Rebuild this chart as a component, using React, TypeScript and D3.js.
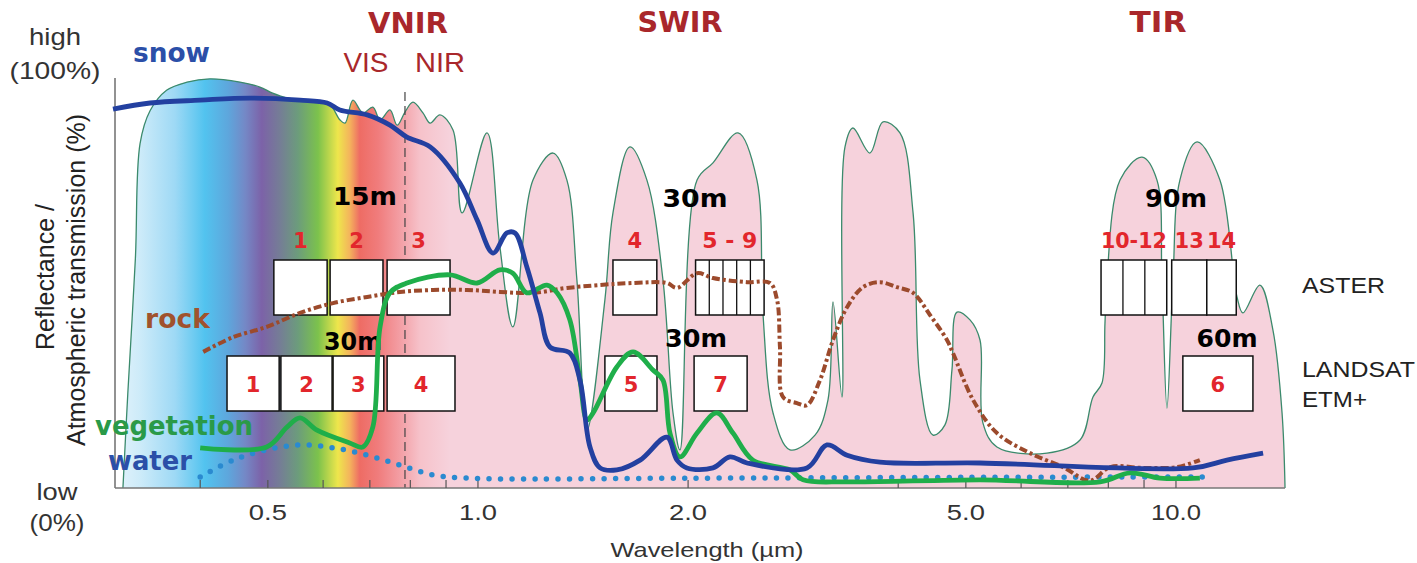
import React from 'react';
import * as d3 from 'd3';

const W = 1417;
const H = 563;

// [wavelength µm, percent]
const transmission: [number, number][] = [
  [0.310, 0], [0.315, 23], [0.323, 56], [0.328, 84], [0.339, 92], [0.358, 97], [0.383, 99],
  [0.413, 99.8], [0.456, 99], [0.487, 97.8], [0.508, 96.3], [0.533, 95.1], [0.588, 94.1],
  [0.614, 93.4], [0.634, 89.8], [0.645, 89], [0.662, 94.6], [0.684, 91.5], [0.707, 92.9],
  [0.724, 89.8], [0.748, 92.2], [0.766, 88.5], [0.786, 91.7], [0.807, 94.1], [0.834, 91.5],
  [0.854, 89], [0.882, 91], [0.921, 87.3], [0.949, 67.1], [1.030, 86.6], [1.075, 58.8],
  [1.122, 39.3], [1.199, 75.1], [1.281, 81.7], [1.341, 75.1], [1.386, 50.7], [1.433, 14.1],
  [1.520, 45.9], [1.561, 67.1], [1.651, 83.2], [1.746, 75.1], [1.841, 50.7], [1.903, 18.3],
  [1.947, 9.3], [2.060, 75.1], [2.171, 79.3], [2.358, 86.6], [2.510, 75.1], [2.560, 42.7],
  [2.647, 18.3], [2.799, 9.3], [3.040, 12.9], [3.173, 21.5], [3.226, 45.4], [3.323, 22.2],
  [3.356, 83.2], [3.445, 87.8], [3.644, 81.7], [3.804, 89.3], [4.023, 86.6], [4.201, 67.1],
  [4.298, 26.3], [4.487, 12.9], [4.667, 15.4], [4.776, 28.8], [4.856, 42.9], [5.069, 41],
  [5.239, 36.1], [5.289, 15.9], [5.540, 10], [6.535, 8.5], [7.287, 11.7], [7.605, 22.2],
  [7.834, 25.6], [7.912, 40.2], [7.963, 50.7], [8.315, 75.1], [8.941, 80.7], [9.393, 75.1],
  [9.548, 50.7], [9.707, 19.5], [9.901, 50.7], [10.13, 75.1], [10.72, 84.4], [11.56, 75.1],
  [12.23, 46.6], [12.47, 42.7], [13.19, 49.5], [13.77, 38.5], [14.19, 18.3], [14.33, 0],
];

const snow: [number, number][] = [
  [0.300, 92.4], [0.339, 93.9], [0.400, 94.6], [0.471, 95.1], [0.556, 94.6], [0.608, 93.9],
  [0.634, 92.2], [0.694, 91.0], [0.748, 88.5], [0.791, 85.6], [0.854, 83.2], [0.942, 74.4],
  [0.997, 65.4], [1.051, 57.3], [1.100, 62.2], [1.130, 62.2], [1.175, 53.9], [1.227, 42.7],
  [1.268, 34.4], [1.354, 32.9], [1.400, 26.3], [1.447, 10.0], [1.496, 4.9], [1.581, 4.4],
  [1.707, 6.8], [1.865, 12.4], [1.928, 6.8], [1.992, 4.9], [2.171, 4.9], [2.296, 7.6],
  [2.429, 6.1], [2.960, 4.9], [3.162, 10.5], [3.379, 8.0], [3.767, 6.3], [5.239, 6.1],
  [10.58, 4.9], [11.83, 6.8], [13.33, 8.5],
];

const vegetation: [number, number][] = [
  [0.400, 9.8], [0.498, 10.0], [0.533, 14.9], [0.556, 17.1], [0.588, 14.1], [0.655, 11.0],
  [0.684, 10.0], [0.707, 14.9], [0.724, 39.3], [0.748, 47.6], [0.791, 50.0], [0.912, 52.0],
  [0.997, 50.0], [1.075, 53.2], [1.122, 52.4], [1.175, 47.6], [1.255, 49.5], [1.298, 47.6],
  [1.354, 41.0], [1.400, 26.3], [1.433, 16.6], [1.462, 18.3], [1.581, 29.5], [1.668, 33.2],
  [1.781, 28.8], [1.841, 26.3], [1.884, 13.4], [1.947, 7.6], [2.060, 13.4], [2.199, 18.3],
  [2.319, 13.4], [2.477, 6.8], [2.799, 4.4], [2.922, 2.0], [3.379, 1.5], [5.239, 2.0],
  [7.784, 1.5], [8.594, 3.7], [9.488, 2.4], [10.82, 2.4],
];

const water: [number, number][] = [
  [0.400, 2.7], [0.446, 6.8], [0.498, 9.3], [0.556, 10.5], [0.620, 9.8], [0.694, 8.0],
  [0.773, 5.6], [0.862, 3.2], [0.964, 2.4], [2.0, 2.4], [5.0, 2.6], [10.93, 2.7],
];

const rock: [number, number][] = [
  [0.404, 33.2], [0.446, 36.8], [0.498, 39.3], [0.556, 42.7], [0.620, 45.1], [0.694, 46.6],
  [0.773, 47.8], [0.862, 48.3], [0.964, 48.3], [1.199, 47.6], [1.341, 48.8], [1.668, 50.0],
  [1.865, 50.0], [1.928, 48.8], [2.060, 52.4], [2.171, 51.2], [2.429, 50.2], [2.620, 50.0],
  [2.682, 45.9], [2.708, 34.4], [2.735, 22.2], [2.864, 20.7], [2.960, 20.2], [3.090, 26.3],
  [3.226, 36.1], [3.379, 44.1], [3.562, 49.0], [3.767, 50.2], [3.983, 49.0], [4.201, 47.6],
  [4.442, 42.2], [4.698, 36.1], [4.79, 33.0], [5.12, 21.5], [5.54, 13.4], [6.18, 8.5],
  [6.89, 5.1], [7.53, 1.8], [8.05, 5.1], [8.97, 4.9], [10.03, 5.1], [10.82, 6.8],
];

// sensor bands: label, from, to (µm), number of sub-cells
const asterBands = [
  { label: '1', lo: 0.510, hi: 0.608, n: 1 },
  { label: '2', lo: 0.614, hi: 0.731, n: 1 },
  { label: '3', lo: 0.741, hi: 0.912, n: 1 },
  { label: '4', lo: 1.561, hi: 1.804, n: 1 },
  { label: '5 - 9', lo: 2.05, hi: 2.57, n: 5 },
  { label: '10-12', lo: 7.81, hi: 9.70, n: 3 },
  { label: '13', lo: 9.86, hi: 11.07, n: 1 },
  { label: '14', lo: 11.07, hi: 12.2, n: 1 },
];
const landsatBands = [
  { label: '1', lo: 0.437, hi: 0.519 },
  { label: '2', lo: 0.522, hi: 0.618 },
  { label: '3', lo: 0.620, hi: 0.733 },
  { label: '4', lo: 0.741, hi: 0.927 },
  { label: '5', lo: 1.520, hi: 1.805 },
  { label: '7', lo: 2.04, hi: 2.43 },
  { label: '6', lo: 10.23, hi: 12.89 },
];

const tickValues = [0.4, 0.5, 0.6, 0.7, 0.8, 0.9, 1, 2, 4, 5, 6, 7, 8, 9, 10];
const tickLabels = [0.5, 1, 2, 5, 10];

// visible spectrum colours under the transmission curve
const spectrum: [number, string][] = [
  [0.300, '#e6f4fc'], [0.328, '#cdebf9'], [0.368, '#9ed9f5'], [0.406, '#52c3ef'],
  [0.439, '#5ea6dc'], [0.464, '#7488c6'], [0.490, '#7c62a8'], [0.520, '#757d96'],
  [0.552, '#6c9c7c'], [0.590, '#7cc24c'], [0.630, '#eee64c'], [0.655, '#f4b45c'],
  [0.677, '#ee6c64'], [0.719, '#f07c7c'], [0.773, '#f39ea4'], [0.826, '#f6c2ca'],
  [0.912, '#f6d2dc'],
];

const SANS = '"Liberation Sans", Arial, sans-serif';
const BOLD = '"DejaVu Sans", sans-serif';
const RED = '#e2262c';
const DARKRED = '#a9272b';

const Txt = ({ x, y, t, size, w, anchor = 'middle', bold = false, fill = '#222' }: any) => (
  <text x={x} y={y} fontSize={size} textAnchor={anchor} fill={fill}
        fontFamily={bold ? BOLD : SANS} fontWeight={bold ? 'bold' : 'normal'}
        textLength={w} lengthAdjust="spacingAndGlyphs">{t}</text>
);

export default function App() {
  const x = d3.scaleLog().domain([0.3, 15]).range([113, 113 + 698 * Math.log10(50)]);
  const y = d3.scaleLinear().domain([0, 100]).range([488, 78]);
  const curve = d3.curveCatmullRom.alpha(0.5);
  const line = d3.line<[number, number]>().x(d => x(d[0])).y(d => y(d[1])).curve(curve);
  const area = d3.area<[number, number]>().x(d => x(d[0])).y0(y(0)).y1(d => y(d[1])).curve(curve);

  const gx0 = x(spectrum[0][0]);
  const gx1 = x(spectrum[spectrum.length - 1][0]);

  const asterTop = 260, asterBot = 315;
  const lsTop = 356, lsBot = 411;

  return (
    <svg width={W} height={H} style={{ position: 'absolute', left: 0, top: 0, background: '#fff' }}>
      <defs>
        <linearGradient id="spec" gradientUnits="userSpaceOnUse" x1={gx0} x2={gx1} y1={0} y2={0}>
          {spectrum.map(([l, c], i) => (
            <stop key={i} offset={(x(l) - gx0) / (gx1 - gx0)} stopColor={c} />
          ))}
        </linearGradient>
      </defs>

      {/* atmospheric transmission */}
      <path d={area(transmission) || ''} fill="url(#spec)" />
      <path d={line(transmission) || ''} fill="none" stroke="#3b8a6c" strokeWidth={1.3} />

      {/* VIS / NIR divider */}
      <line x1={x(0.786)} x2={x(0.786)} y1={92} y2={y(0)} stroke="#444" strokeWidth={1.2} strokeDasharray="9 5" />

      {/* axes */}
      <line x1={115} x2={115} y1={78} y2={y(0)} stroke="#777" strokeWidth={1.6} />
      <line x1={115} x2={x(14.33)} y1={y(0)} y2={y(0)} stroke="#777" strokeWidth={1.6} />
      {tickValues.map(v => (
        <line key={v} x1={x(v)} x2={x(v)} y1={y(0)} y2={y(0) - 8} stroke="#555" strokeWidth={1.2} />
      ))}
      {tickLabels.map(v => (
        <Txt key={v} x={x(v)} y={520} t={v.toFixed(1)} size={22} w={v >= 10 ? 50 : 38} fill="#333" />
      ))}
      <Txt x={707} y={557} t="Wavelength (µm)" size={21} w={193} fill="#333" />

      {/* y axis labels */}
      <Txt x={55} y={45} t="high" size={24} w={52} fill="#333" />
      <Txt x={55} y={79} t="(100%)" size={24} w={91} fill="#333" />
      <Txt x={57} y={500} t="low" size={24} w={41} fill="#333" />
      <Txt x={57} y={531} t="(0%)" size={24} w={55} fill="#333" />
      <text transform="translate(54,277) rotate(-90)" textAnchor="middle" fontSize={25} fontFamily={SANS} fill="#222">Reflectance /</text>
      <text transform="translate(85,280) rotate(-90)" textAnchor="middle" fontSize={25} fontFamily={SANS} fill="#222">Atmospheric transmission (%)</text>

      {/* region titles */}
      <Txt x={408} y={33} t="VNIR" size={29} w={80} bold fill={DARKRED} />
      <Txt x={366} y={72} t="VIS" size={27} w={45} fill={DARKRED} />
      <Txt x={440} y={72} t="NIR" size={27} w={50} fill={DARKRED} />
      <Txt x={680} y={32} t="SWIR" size={29} w={85} bold fill={DARKRED} />
      <Txt x={1158} y={32} t="TIR" size={29} w={57} bold fill={DARKRED} />

      {/* ASTER bands */}
      {asterBands.map(b => {
        const x0 = x(b.lo), x1 = x(b.hi);
        return (
          <g key={'a' + b.label}>
            <rect x={x0} y={asterTop} width={x1 - x0} height={asterBot - asterTop} fill="#fff" stroke="#111" strokeWidth={1.5} />
            {d3.range(1, b.n).map(i => (
              <line key={i} x1={x0 + (x1 - x0) * i / b.n} x2={x0 + (x1 - x0) * i / b.n} y1={asterTop} y2={asterBot} stroke="#111" strokeWidth={1.3} />
            ))}
            <text x={(x0 + x1) / 2} y={248} textAnchor="middle" fontSize={21} fontWeight="bold" fontFamily={BOLD} fill={RED}
                  textLength={b.label.length > 2 ? (b.n === 3 ? 66 : 55) : undefined} lengthAdjust="spacingAndGlyphs">{b.label}</text>
          </g>
        );
      })}

      {/* Landsat bands */}
      {landsatBands.map(b => {
        const x0 = x(b.lo), x1 = x(b.hi);
        return (
          <g key={'l' + b.label}>
            <rect x={x0} y={lsTop} width={x1 - x0} height={lsBot - lsTop} fill="#fff" stroke="#111" strokeWidth={1.5} />
            <text x={(x0 + x1) / 2} y={392} textAnchor="middle" fontSize={21} fontWeight="bold" fontFamily={BOLD} fill={RED}>{b.label}</text>
          </g>
        );
      })}

      {/* spatial resolutions */}
      <Txt x={365} y={205} t="15m" size={25} w={64} bold fill="#000" />
      <Txt x={695} y={207} t="30m" size={25} w={65} bold fill="#000" />
      <Txt x={1176} y={207} t="90m" size={25} w={62} bold fill="#000" />
      <Txt x={353} y={350} t="30m" size={25} w={58} bold fill="#000" />
      <Txt x={696} y={347} t="30m" size={25} w={62} bold fill="#000" />
      <Txt x={1227} y={347} t="60m" size={25} w={61} bold fill="#000" />

      {/* sensor names */}
      <Txt x={1302} y={293} t="ASTER" size={22} w={83} anchor="start" />
      <Txt x={1302} y={377} t="LANDSAT" size={22} w={113} anchor="start" />
      <Txt x={1302} y={407} t="ETM+" size={22} w={65} anchor="start" />

      {/* spectra */}
      <path d={line(water) || ''} fill="none" stroke="#2a8ad0" strokeWidth={5.5} strokeLinecap="round" strokeDasharray="0 11.5" />
      <path d={line(rock) || ''} fill="none" stroke="#9c4a2c" strokeWidth={4} strokeLinecap="butt" strokeDasharray="8 3 3 3" />
      <path d={line(vegetation) || ''} fill="none" stroke="#1fae4a" strokeWidth={4.8} strokeLinejoin="round" />
      <path d={line(snow) || ''} fill="none" stroke="#2340a0" strokeWidth={4.8} strokeLinejoin="round" />

      {/* series labels */}
      <Txt x={133} y={62} t="snow" size={26} w={77} anchor="start" bold fill="#2b4fa8" />
      <Txt x={145} y={328} t="rock" size={26} w={65} anchor="start" bold fill="#a0522d" />
      <Txt x={95} y={435} t="vegetation" size={26} w={158} anchor="start" bold fill="#2a9a48" />
      <Txt x={108} y={470} t="water" size={26} w={84} anchor="start" bold fill="#2b4fa8" />
    </svg>
  );
}
